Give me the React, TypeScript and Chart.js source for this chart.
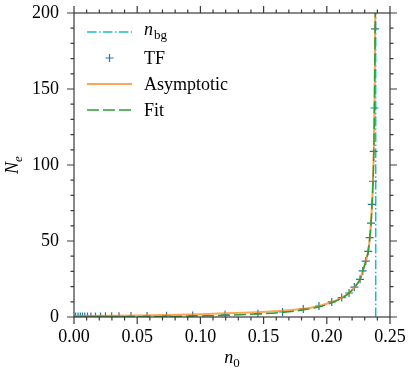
import React, { useEffect, useRef } from "react";
import { Chart, registerables } from "chart.js";

Chart.register(...registerables);

// ---------- data ----------
const nBg = 0.2387;
const nBgLineNe = [0, 200];

const tfN0 = [
  0.0013, 0.0032, 0.005, 0.0067, 0.0085, 0.0107, 0.0134, 0.017, 0.021, 0.0249,
  0.0298, 0.0356, 0.0451, 0.0578, 0.0732, 0.0939, 0.1195, 0.1455, 0.165, 0.1814,
  0.1938, 0.2039, 0.2118, 0.2176, 0.2218, 0.2263, 0.2284, 0.2308, 0.2328, 0.2339,
  0.235, 0.2356, 0.2366, 0.2371, 0.2377, 0.2382,
];
const tfNe = [
  0.3, 0.3, 0.3, 0.35, 0.35, 0.35, 0.4, 0.4, 0.4, 0.45,
  0.5, 0.5, 0.6, 0.7, 0.8, 1.0, 1.4, 2.2, 3.3, 5.3,
  7.2, 9.9, 12.8, 15.8, 19.7, 24.8, 30.3, 36.8, 43.2, 52.2,
  61.8, 74.1, 89.3, 109, 137.5, 189.6,
];

const asymN0 = [
  0, 0.02, 0.05, 0.08, 0.1, 0.12, 0.145, 0.165, 0.181, 0.194, 0.204, 0.212,
  0.2176, 0.222, 0.2263, 0.2284, 0.2308, 0.2328, 0.234, 0.235, 0.2358, 0.2366,
  0.2372, 0.2377, 0.2381, 0.2384,
];
const asymNe = [
  0.7, 0.8, 1.0, 1.4, 1.8, 2.4, 3.2, 4.1, 5.4, 7.3, 9.9, 12.8,
  15.8, 19.7, 24.8, 30, 36.5, 43.5, 52, 62, 74, 90,
  110, 138, 175, 205,
];

const fitN0 = [
  0, 0.02, 0.05, 0.08, 0.1, 0.12, 0.145, 0.165, 0.181, 0.194, 0.204, 0.212,
  0.2176, 0.222, 0.2263, 0.2284, 0.2308, 0.2328, 0.234, 0.235, 0.2358, 0.2366,
  0.2372, 0.2377, 0.2381, 0.2384,
];
const fitNe = [
  0.0, 0.05, 0.15, 0.4, 0.7, 1.1, 2.0, 3.1, 4.6, 6.7, 9.4, 12.5,
  15.7, 19.7, 24.8, 30, 36.5, 43.5, 52, 62, 74, 90,
  110, 138, 175, 205,
];

const xMin = 0;
const xMax = 0.25;
const xMajorStep = 0.05;
const xMinorStep = 0.01;
const yMin = 0;
const yMax = 200;
const yMajorStep = 50;
const yMinorStep = 10;

const legendLabels = ["bg", "TF", "Asymptotic", "Fit"];

// ---------- style ----------
const FONT = '"Liberation Serif", "Times New Roman", serif';
const AXIS = "#3a3a3a";
const C_BG = "#17becf";
const C_TF = "#1f77b4";
const C_ASYM = "rgba(255,127,14,0.7)";
const C_FIT = "#2ca02c";
const DASH_BG = [9.6, 2.4, 1.5, 2.4];
const DASH_FIT = [12, 4];

const zip = (xs: number[], ys: number[]) => xs.map((x, i) => ({ x, y: ys[i] }));

const framePlugin = {
  id: "frame",
  afterDatasetsDraw(chart: any) {
    const { ctx, chartArea, scales } = chart;
    const { left, right, top, bottom } = chartArea;
    const xs = scales.x;
    const ys = scales.y;
    ctx.save();
    ctx.strokeStyle = AXIS;
    ctx.lineWidth = 1.2;
    ctx.setLineDash([]);
    ctx.strokeRect(left, top, right - left, bottom - top);
    ctx.beginPath();
    const nx = Math.round((xMax - xMin) / xMinorStep);
    const perMajX = Math.round(xMajorStep / xMinorStep);
    for (let i = 0; i <= nx; i++) {
      const px = xs.getPixelForValue(xMin + i * xMinorStep);
      const len = i % perMajX === 0 ? 7 : 3.5;
      ctx.moveTo(px, bottom);
      ctx.lineTo(px, bottom + len);
      ctx.moveTo(px, top);
      ctx.lineTo(px, top - len);
    }
    const ny = Math.round((yMax - yMin) / yMinorStep);
    const perMajY = Math.round(yMajorStep / yMinorStep);
    for (let i = 0; i <= ny; i++) {
      const py = ys.getPixelForValue(yMin + i * yMinorStep);
      const len = i % perMajY === 0 ? 7 : 3.5;
      ctx.moveTo(left, py);
      ctx.lineTo(left - len, py);
      ctx.moveTo(right, py);
      ctx.lineTo(right + len, py);
    }
    ctx.stroke();
    ctx.restore();
  },
  afterDraw(chart: any) {
    const { ctx, chartArea } = chart;
    ctx.save();
    ctx.fillStyle = "#000";
    ctx.textBaseline = "alphabetic";
    // legend
    const rows = [32, 58, 84, 110];
    const sx0 = 87;
    const sx1 = 132;
    const tx = 144;
    // row 0: n_bg
    ctx.strokeStyle = C_BG;
    ctx.lineWidth = 1.5;
    ctx.setLineDash(DASH_BG);
    ctx.beginPath();
    ctx.moveTo(sx0, rows[0]);
    ctx.lineTo(sx1, rows[0]);
    ctx.stroke();
    // row 1: TF marker
    ctx.setLineDash([]);
    ctx.strokeStyle = C_TF;
    ctx.lineWidth = 1.2;
    const mx = (sx0 + sx1) / 2;
    ctx.beginPath();
    ctx.moveTo(mx - 4, rows[1]);
    ctx.lineTo(mx + 4, rows[1]);
    ctx.moveTo(mx, rows[1] - 4);
    ctx.lineTo(mx, rows[1] + 4);
    ctx.stroke();
    // row 2: asymptotic
    ctx.strokeStyle = C_ASYM;
    ctx.lineWidth = 2;
    ctx.beginPath();
    ctx.moveTo(sx0, rows[2]);
    ctx.lineTo(sx1, rows[2]);
    ctx.stroke();
    // row 3: fit
    ctx.strokeStyle = C_FIT;
    ctx.lineWidth = 1.5;
    ctx.setLineDash(DASH_FIT);
    ctx.beginPath();
    ctx.moveTo(sx0, rows[3]);
    ctx.lineTo(sx1, rows[3]);
    ctx.stroke();
    ctx.setLineDash([]);

    // legend texts
    ctx.font = `italic 18px ${FONT}`;
    ctx.fillText("n", tx, rows[0] + 3);
    const nW = ctx.measureText("n").width;
    ctx.font = `13px ${FONT}`;
    ctx.fillText(legendLabels[0], tx + nW + 1, rows[0] + 7);
    ctx.font = `18px ${FONT}`;
    ctx.fillText(legendLabels[1], tx, rows[1] + 6);
    ctx.fillText(legendLabels[2], tx, rows[2] + 6);
    ctx.fillText(legendLabels[3], tx, rows[3] + 6);

    // x-axis title n_0
    const cx = (chartArea.left + chartArea.right) / 2;
    ctx.font = `italic 18px ${FONT}`;
    const w1 = ctx.measureText("n").width;
    ctx.font = `13px ${FONT}`;
    const w2 = ctx.measureText("0").width;
    const startX = cx - (w1 + w2) / 2;
    ctx.font = `italic 18px ${FONT}`;
    ctx.fillText("n", startX, 363);
    ctx.font = `13px ${FONT}`;
    ctx.fillText("0", startX + w1, 367);

    // y-axis title N_e
    const cy = (chartArea.top + chartArea.bottom) / 2;
    ctx.translate(18, cy);
    ctx.rotate(-Math.PI / 2);
    ctx.font = `italic 18px ${FONT}`;
    const v1 = ctx.measureText("N").width;
    ctx.font = `italic 13px ${FONT}`;
    const v2 = ctx.measureText("e").width;
    const sX = -(v1 + v2) / 2;
    ctx.font = `italic 18px ${FONT}`;
    ctx.fillText("N", sX, 0);
    ctx.font = `italic 13px ${FONT}`;
    ctx.fillText("e", sX + v1, 4);
    ctx.restore();
  },
};

export default function App() {
  const ref = useRef<HTMLCanvasElement | null>(null);
  useEffect(() => {
    if (!ref.current) return;
    const chart = new Chart(ref.current, {
      type: "scatter",
      data: {
        datasets: [
          {
            label: "Fit",
            data: zip(fitN0, fitNe),
            showLine: true,
            borderColor: C_FIT,
            borderWidth: 1.5,
            borderDash: DASH_FIT,
            pointRadius: 0,
            cubicInterpolationMode: "monotone",
            clip: 0,
            order: 1,
          },
          {
            label: "Asymptotic",
            data: zip(asymN0, asymNe),
            showLine: true,
            borderColor: C_ASYM,
            borderWidth: 2,
            pointRadius: 0,
            cubicInterpolationMode: "monotone",
            clip: 0,
            order: 2,
          },
          {
            label: "TF",
            data: zip(tfN0, tfNe),
            showLine: false,
            pointStyle: "cross",
            pointRadius: 4,
            borderColor: C_TF,
            backgroundColor: C_TF,
            pointBorderWidth: 1.2,
            clip: 0,
            order: 3,
          },
          {
            label: "n_bg",
            data: nBgLineNe.map((y) => ({ x: nBg, y })),
            showLine: true,
            borderColor: C_BG,
            borderWidth: 1.5,
            borderDash: DASH_BG,
            pointRadius: 0,
            clip: 0,
            order: 4,
          },
        ],
      } as any,
      options: {
        animation: false,
        responsive: false,
        layout: { padding: { top: 13, right: 19, left: 0, bottom: 0 } },
        plugins: {
          legend: { display: false },
          tooltip: { enabled: false },
        },
        scales: {
          x: {
            type: "linear",
            min: xMin,
            max: xMax,
            afterFit: (s: any) => {
              s.height = 56;
              s.paddingLeft = 0;
              s.paddingRight = 0;
            },
            grid: { display: false, drawTicks: false },
            border: { display: false },
            ticks: {
              stepSize: xMajorStep,
              padding: 9,
              color: "#000",
              autoSkip: false,
              maxRotation: 0,
              font: { family: FONT, size: 18 },
              callback: (v: any) => Number(v).toFixed(2),
            },
          },
          y: {
            type: "linear",
            min: yMin,
            max: yMax,
            afterFit: (s: any) => {
              s.width = 74;
              s.paddingTop = 0;
              s.paddingBottom = 0;
            },
            grid: { display: false, drawTicks: false },
            border: { display: false },
            ticks: {
              stepSize: yMajorStep,
              padding: 15,
              color: "#000",
              font: { family: FONT, size: 18 },
              callback: (v: any) => String(Math.round(Number(v))),
            },
          },
        },
      } as any,
      plugins: [framePlugin],
    });
    return () => chart.destroy();
  }, []);
  return (
    <div style={{ position: "fixed", left: 0, top: 0, width: 409, height: 373, background: "#fff" }}>
      <canvas ref={ref} width={409} height={373} style={{ display: "block" }} />
    </div>
  );
}
